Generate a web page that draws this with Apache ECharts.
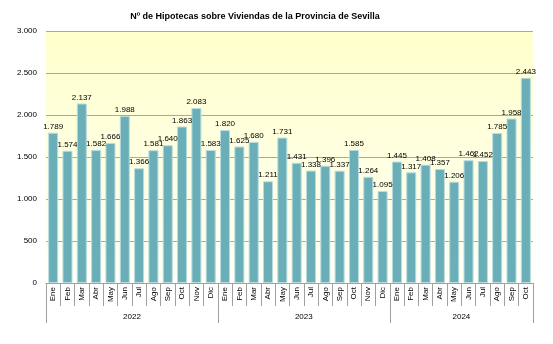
<!DOCTYPE html>
<html><head><meta charset="utf-8">
<script src="https://cdn.jsdelivr.net/npm/echarts@6/dist/echarts.min.js"></script>
<style>html,body{margin:0;padding:0;background:#fff}#c{width:553px;height:344px}</style>
</head><body><div id="c"></div>
<script>
const months = ['Ene','Feb','Mar','Abr','May','Jun','Jul','Ago','Sep','Oct','Nov','Dic',
  'Ene','Feb','Mar','Abr','May','Jun','Jul','Ago','Sep','Oct','Nov','Dic',
  'Ene','Feb','Mar','Abr','May','Jun','Jul','Ago','Sep','Oct'];
const years = ['2022','2023','2024'];
const yearMonthCounts = [12, 12, 10];
const values = [1789,1574,2137,1582,1666,1988,1366,1581,1640,1863,2083,1583,
  1820,1625,1680,1211,1731,1431,1338,1396,1337,1585,1264,1095,
  1445,1317,1408,1357,1206,1462,1452,1785,1958,2443];
const yTicks = [0,500,1000,1500,2000,2500,3000];

const fmt = v => String(v).replace(/\B(?=(\d{3})+(?!\d))/g, '.');
const bounds = [0]; const centers = [];
yearMonthCounts.forEach(n => { const s = bounds[bounds.length-1]; centers.push(s + n/2); bounds.push(s + n); });

const chart = echarts.init(document.getElementById('c'), null, {renderer:'canvas'});
chart.setOption({
  animation:false,
  title:{text:'Nº de Hipotecas sobre Viviendas de la Provincia de Sevilla', left:250, top:7, textAlign:'center',
    textStyle:{fontFamily:'Liberation Sans', fontSize:9, fontWeight:'bold', color:'#000'}},
  grid:{left:46, right:20, top:31, bottom:61, show:true, borderWidth:0,
    backgroundColor:{type:'linear', x:0, y:0, x2:0, y2:1, colorStops:[{offset:0,color:'#FFFFCC'},{offset:1,color:'#FFFFF6'}]}},
  xAxis:[{
    type:'category', data:months, position:'bottom',
    axisLine:{show:true, lineStyle:{color:'#A0A0A0', width:1}},
    axisTick:{show:true, interval:0, length:23, lineStyle:{color:'#A0A0A0'}},
    axisLabel:{interval:0, rotate:90, margin:4, fontFamily:'Liberation Sans', fontSize:8, color:'#000'}
  },{
    type:'value', min:0, max:bounds[bounds.length-1], position:'bottom',
    axisLine:{show:false}, splitLine:{show:false},
    axisTick:{show:true, length:40, lineStyle:{color:'#A0A0A0'}, customValues:bounds},
    axisLabel:{show:true, margin:30, customValues:centers, fontFamily:'Liberation Sans', fontSize:8, color:'#000',
      formatter:v => { const i = centers.indexOf(v); return i >= 0 ? years[i] : ''; }}
  }],
  yAxis:{type:'value', min:yTicks[0], max:yTicks[yTicks.length-1], interval:500,
    axisLine:{show:false}, axisTick:{show:false},
    splitLine:{lineStyle:{color:'#A8A8A8', width:1}},
    axisLabel:{margin:9, fontFamily:'Liberation Sans', fontSize:8, color:'#000', formatter:v => fmt(v)}},
  series:[{type:'bar', data:values, barCategoryGap:'30%',
    itemStyle:{color:'#6AAFB8', borderColor:'#B8DCE0', borderWidth:1},
    label:{show:true, position:'top', distance:2, fontFamily:'Liberation Sans', fontSize:8, color:'#000', formatter:p => fmt(p.value)}}]
});
</script></body></html>
